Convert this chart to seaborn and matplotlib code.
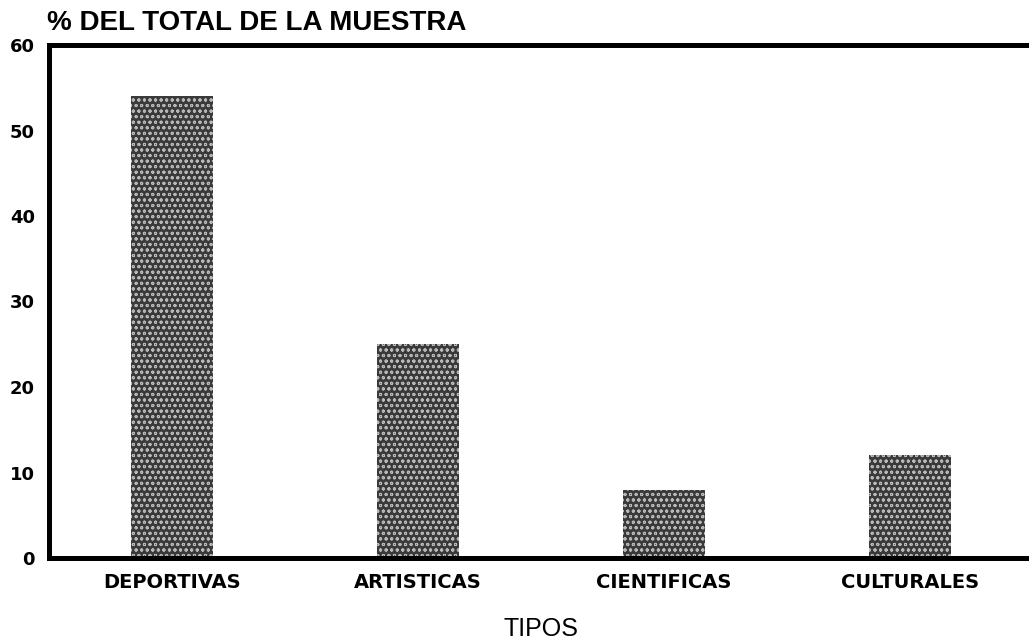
import matplotlib
matplotlib.use("Agg")
import matplotlib.pyplot as plt
import seaborn as sns
import pandas as pd

categorias = ["DEPORTIVAS", "ARTISTICAS", "CIENTIFICAS", "CULTURALES"]
porcentajes = [54, 25, 8, 12]
yticks = [0, 10, 20, 30, 40, 50, 60]

sns.set_theme(style="white")
plt.rcParams['font.family'] = ['Liberation Sans', 'DejaVu Sans']
plt.rcParams['hatch.linewidth'] = 0.7
plt.rcParams['text.color'] = 'black'
plt.rcParams['axes.labelcolor'] = 'black'
plt.rcParams['xtick.color'] = 'black'
plt.rcParams['ytick.color'] = 'black'

df = pd.DataFrame({"tipo": categorias, "pct": porcentajes})

fig = plt.figure(figsize=(10.29, 6.44), dpi=100)
ax = fig.add_axes([49/1029, (644-558)/644, 984/1029, (558-45)/644])

sns.barplot(data=df, x="tipo", y="pct", ax=ax, width=0.337,
            color="#3c3c3c", saturation=1)
for p in ax.patches:
    p.set_facecolor("#3a3a3a")
    p.set_edgecolor("#b8b8b8")
    p.set_hatch("ooo")
    p.set_linewidth(0)

ax.set_xlim(-0.5, 3.5)
ax.set_ylim(0, 60)
ax.set_yticks(yticks)
ax.set_yticklabels([str(v) for v in yticks], fontsize=13, fontweight='bold',
                   family=['DejaVu Sans'])
ax.tick_params(axis='y', length=0, pad=10)
ax.tick_params(axis='x', length=0, pad=11)
ax.set_xticks(range(len(categorias)))
ax.set_xticklabels(categorias, fontsize=14, fontweight='bold', family=['DejaVu Sans'])
ax.set_xlabel("TIPOS", fontsize=18)
ax.xaxis.label.set_va('baseline')
ax.xaxis.set_label_coords(0.5, -78/513)
ax.set_ylabel("")

for side in ['left', 'top', 'bottom']:
    ax.spines[side].set_linewidth(3.6)
    ax.spines[side].set_color('black')
ax.spines['right'].set_visible(False)

fig.text(47/1029, 1 - 30/644, "% DEL TOTAL DE LA MUESTRA", fontsize=20,
         fontweight='bold', ha='left', va='baseline')

fig.savefig("out.png", dpi=100)
